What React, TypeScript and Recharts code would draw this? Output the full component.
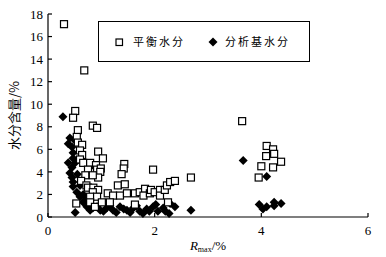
import React from "react";
import { ScatterChart, Scatter, XAxis, YAxis } from "recharts";

// 平衡水分 (open squares): [Rmax %, moisture %]
const balanceMoisture: [number, number][] = [
  [0.3, 17.1], [0.68, 13.0], [0.51, 9.4], [0.47, 8.8], [0.84, 8.1], [0.92, 7.9],
  [0.56, 7.7], [0.54, 7.1], [0.56, 6.6], [0.64, 6.4], [0.6, 5.9], [0.64, 5.5],
  [0.6, 5.1], [0.94, 5.8], [1.03, 5.2], [0.66, 4.8], [0.79, 4.8], [0.9, 4.6],
  [0.75, 4.2], [0.92, 4.2], [0.99, 4.3], [0.98, 4.0], [0.94, 3.5], [0.7, 3.7],
  [0.84, 3.7], [0.62, 3.2], [0.72, 2.8], [0.75, 2.6], [0.85, 2.6], [0.94, 2.4],
  [0.84, 2.2], [0.79, 1.8], [0.92, 1.8], [0.79, 1.3], [0.88, 0.9], [1.12, 2.1],
  [1.22, 1.9], [1.35, 1.9], [1.48, 2.1], [1.01, 1.3], [1.16, 1.3], [0.53, 1.2],
  [1.43, 4.7], [1.42, 4.3], [1.38, 3.8], [1.31, 2.8], [1.44, 2.9], [1.63, 2.1],
  [1.72, 2.2], [1.82, 2.5], [1.79, 1.9], [1.91, 2.1], [1.93, 2.4], [2.0, 2.2],
  [1.97, 4.2], [2.1, 2.4], [2.1, 1.9], [2.19, 2.4], [2.23, 2.8], [2.29, 3.1],
  [2.38, 3.2], [2.68, 3.5], [2.25, 1.3], [1.63, 1.1], [3.64, 8.5], [4.1, 6.3],
  [4.22, 6.0], [4.24, 5.6], [4.09, 5.4], [4.37, 4.9], [4.0, 4.5], [4.22, 4.4],
  [3.95, 3.5],
];

// 分析基水分 (filled diamonds)
const airDryMoisture: [number, number][] = [
  [0.28, 8.9], [0.41, 7.0], [0.5, 6.8], [0.38, 6.5], [0.45, 6.2], [0.47, 5.7],
  [0.47, 5.2], [0.51, 4.8], [0.38, 4.8], [0.45, 4.4], [0.41, 3.9], [0.55, 3.8],
  [0.45, 3.5], [0.47, 3.1], [0.47, 2.7], [0.6, 2.8], [0.54, 2.2], [0.66, 2.0],
  [0.6, 1.8], [0.7, 1.5], [0.66, 1.3], [0.73, 0.9], [0.79, 0.6], [0.51, 0.4],
  [0.84, 0.8], [0.92, 0.9], [0.98, 0.6], [1.04, 0.5], [1.1, 0.8], [1.16, 1.0],
  [1.22, 0.6], [1.28, 0.4], [1.35, 0.9], [1.42, 0.7], [1.48, 0.6], [1.54, 0.4],
  [1.6, 0.8], [1.66, 1.0], [1.72, 0.5], [1.78, 0.3], [1.85, 0.7], [1.9, 0.5],
  [1.97, 0.9], [2.02, 1.1], [2.06, 0.5], [2.16, 0.8], [2.2, 0.5], [2.27, 0.3],
  [2.29, 1.2], [2.38, 0.9], [2.68, 0.6], [3.66, 5.0], [3.96, 1.1], [4.03, 0.7],
  [4.1, 0.9], [4.24, 1.3], [4.24, 1.0], [4.37, 1.2], [4.1, 3.6],
];

const xTicks = [0, 2, 4, 6];
const yTicks = [0, 2, 4, 6, 8, 10, 12, 14, 16, 18];
const seriesNames = ["平衡水分", "分析基水分"];

const toPoints = (pairs: [number, number][]) => pairs.map(([x, y]) => ({ x, y }));

const serif = "'Liberation Serif', 'DejaVu Serif', serif";
const cjk = "'Noto Sans CJK SC', sans-serif";

const SquareMark = (props: any) => {
  const { cx, cy } = props;
  return (
    <rect x={cx - 3.5} y={cy - 3.5} width={7} height={7} fill="#fff" stroke="#000" strokeWidth={1.2} />
  );
};

const DiamondMark = (props: any) => {
  const { cx, cy } = props;
  const r = 4.5;
  return (
    <polygon points={`${cx},${cy - r} ${cx + r},${cy} ${cx},${cy + r} ${cx - r},${cy}`} fill="#000" />
  );
};

const YLabel = (props: any) => {
  const vb = props.viewBox;
  const cy = vb.y + vb.height / 2;
  return (
    <text x={13} y={cy} transform={`rotate(-90, 13, ${cy})`} textAnchor="middle" dominantBaseline="central"
      fontFamily={cjk} fontSize={13} fill="#000">
      水分含量/%
    </text>
  );
};

const XLabel = (props: any) => {
  const vb = props.viewBox;
  const cx = vb.x + vb.width / 2;
  return (
    <text x={cx} y={250} textAnchor="middle" fontFamily={serif} fontSize={13} fill="#000">
      <tspan fontStyle="italic">R</tspan>
      <tspan fontSize={8} dy={2}>max</tspan>
      <tspan dy={-2}>/%</tspan>
    </text>
  );
};

export default function App() {
  return (
    <div style={{ position: "absolute", left: 0, top: 0, width: 386, height: 257, background: "#fff" }}>
      <ScatterChart width={386} height={257} margin={{ top: 14, right: 18, left: 0, bottom: 0 }}>
        <XAxis
          type="number"
          dataKey="x"
          domain={[0, 6]}
          ticks={xTicks}
          height={40}
          stroke="#000"
          strokeWidth={1.2}
          tickSize={-4}
          tickMargin={13}
          tick={{ fill: "#000", fontSize: 13, fontFamily: serif }}
          label={<XLabel />}
        />
        <YAxis
          type="number"
          dataKey="y"
          domain={[0, 18]}
          ticks={yTicks}
          width={48}
          stroke="#000"
          strokeWidth={1.2}
          tickSize={-4}
          tickMargin={9}
          tick={{ fill: "#000", fontSize: 13, fontFamily: serif }}
          label={<YLabel />}
        />
        <Scatter name={seriesNames[1]} data={toPoints(airDryMoisture)} shape={<DiamondMark />} isAnimationActive={false} />
        <Scatter name={seriesNames[0]} data={toPoints(balanceMoisture)} shape={<SquareMark />} isAnimationActive={false} />
      </ScatterChart>
      <div
        style={{
          position: "absolute", left: 98, top: 21, width: 210, height: 39,
          border: "1.2px solid #000", fontFamily: cjk, fontSize: 11, letterSpacing: 2,
        }}
      >
        <svg style={{ position: "absolute", left: 16, top: 16 }} width={9} height={9}>
          <rect x={1} y={1} width={6.5} height={6.5} fill="#fff" stroke="#000" strokeWidth={1.2} />
        </svg>
        <span style={{ position: "absolute", left: 34, top: 11 }}>{seriesNames[0]}</span>
        <svg style={{ position: "absolute", left: 109, top: 15 }} width={10} height={10}>
          <polygon points="5,0.5 9.5,5 5,9.5 0.5,5" fill="#000" />
        </svg>
        <span style={{ position: "absolute", left: 126, top: 11 }}>{seriesNames[1]}</span>
      </div>
    </div>
  );
}
